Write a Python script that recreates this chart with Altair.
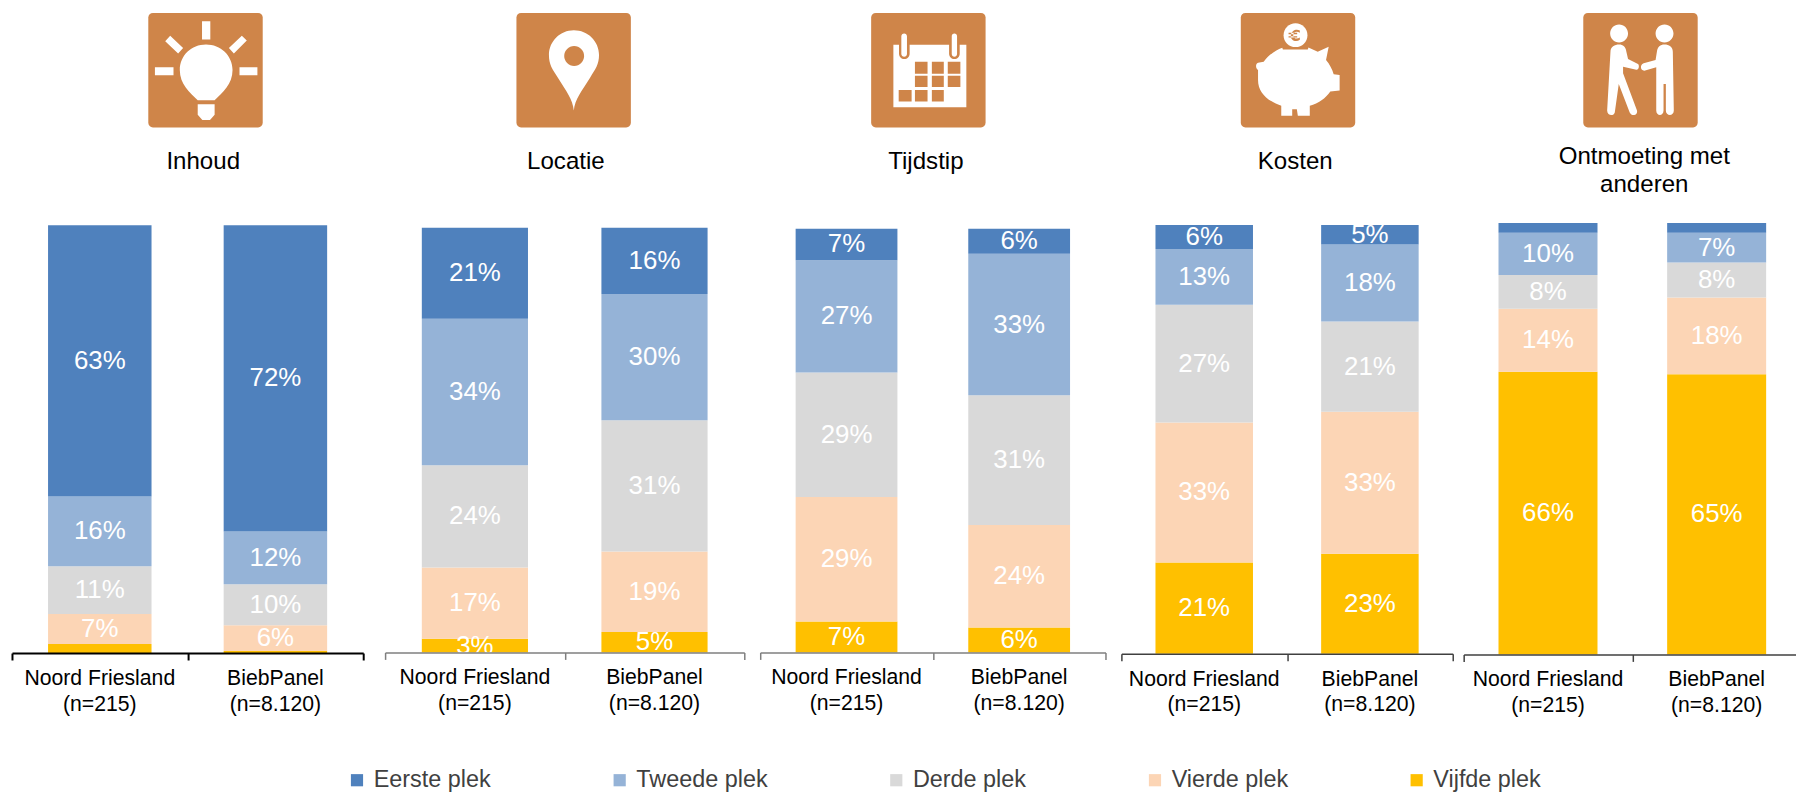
import re
import altair as alt
import pandas as pd

FONT = "Liberation Sans"

places = ["Eerste plek", "Tweede plek", "Derde plek", "Vierde plek", "Vijfde plek"]
place_colors = ["#4F81BD", "#95B3D7", "#D9D9D9", "#FCD5B5", "#FFC000"]
groups = ["Noord Friesland\n(n=215)", "BiebPanel\n(n=8.120)"]
titles = ["Inhoud", "Locatie", "Tijdstip", "Kosten", "Ontmoeting met\nanderen"]

# share per place (Eerste..Vijfde)
inhoud_nf = [63.4, 16.3, 11.2, 7.0, 2.1]
inhoud_bp = [71.6, 12.3, 9.6, 6.0, 0.5]
locatie_nf = [21.4, 34.5, 24.1, 16.8, 3.2]
locatie_bp = [15.6, 29.7, 30.9, 19.0, 4.8]
tijdstip_nf = [7.4, 26.5, 29.4, 29.4, 7.3]
tijdstip_bp = [5.9, 33.4, 30.6, 24.2, 5.9]
kosten_nf = [5.6, 13.0, 27.5, 32.6, 21.3]
kosten_bp = [4.6, 17.9, 21.1, 33.1, 23.3]
ontmoeting_nf = [2.3, 9.8, 7.8, 14.6, 65.5]
ontmoeting_bp = [2.3, 6.9, 8.1, 17.8, 64.9]

# printed labels
inhoud_nf_lab = ["63%", "16%", "11%", "7%", ""]
inhoud_bp_lab = ["72%", "12%", "10%", "6%", ""]
locatie_nf_lab = ["21%", "34%", "24%", "17%", "3%"]
locatie_bp_lab = ["16%", "30%", "31%", "19%", "5%"]
tijdstip_nf_lab = ["7%", "27%", "29%", "29%", "7%"]
tijdstip_bp_lab = ["6%", "33%", "31%", "24%", "6%"]
kosten_nf_lab = ["6%", "13%", "27%", "33%", "21%"]
kosten_bp_lab = ["5%", "18%", "21%", "33%", "23%"]
ontmoeting_nf_lab = ["", "10%", "8%", "14%", "66%"]
ontmoeting_bp_lab = ["", "7%", "8%", "18%", "65%"]

series = [
    (inhoud_nf, inhoud_nf_lab, inhoud_bp, inhoud_bp_lab),
    (locatie_nf, locatie_nf_lab, locatie_bp, locatie_bp_lab),
    (tijdstip_nf, tijdstip_nf_lab, tijdstip_bp, tijdstip_bp_lab),
    (kosten_nf, kosten_nf_lab, kosten_bp, kosten_bp_lab),
    (ontmoeting_nf, ontmoeting_nf_lab, ontmoeting_bp, ontmoeting_bp_lab),
]


def table(a, la, b, lb):
    rows = []
    for grp, vals, labs in ((groups[0], a, la), (groups[1], b, lb)):
        base = 0.0
        for i in range(4, -1, -1):
            rows.append({"group": grp, "place": places[i], "start": base,
                         "end": base + vals[i], "mid": base + vals[i] / 2, "label": labs[i]})
            base += vals[i]
    return pd.DataFrame(rows)


# ---------- icon glyphs: paths written in 345-unit box coordinates ----------
def unit(path, ox=0, oy=0):
    toks = re.findall(r"[MLCZ]|-?\d+\.?\d*", path)
    out, is_x = [], True
    for t in toks:
        if t in "MLCZ":
            out.append(t)
            is_x = True
        else:
            v = (float(t) - (ox if is_x else oy) - 172.5) / 172.5
            out.append(f"{v:.4f}")
            is_x = not is_x
    return " ".join(out)


def rect(x0, y0, x1, y1):
    return f"M{x0} {y0} L{x1} {y0} L{x1} {y1} L{x0} {y1} Z"


def circle(cx, cy, r):
    k = r * 0.5523
    return (f"M{cx-r} {cy} C{cx-r} {cy-k} {cx-k} {cy-r} {cx} {cy-r} "
            f"C{cx+k} {cy-r} {cx+r} {cy-k} {cx+r} {cy} "
            f"C{cx+r} {cy+k} {cx+k} {cy+r} {cx} {cy+r} "
            f"C{cx-k} {cy+r} {cx-r} {cy+k} {cx-r} {cy} Z")


def capsule(x0, y0, x1, y1):
    r = (x1 - x0) / 2
    k = r * 0.5523
    return (f"M{x0} {y0+r} C{x0} {y0+r-k} {x0+r-k} {y0} {x0+r} {y0} "
            f"C{x0+r+k} {y0} {x1} {y0+r-k} {x1} {y0+r} L{x1} {y1-r} "
            f"C{x1} {y1-r+k} {x0+r+k} {y1} {x0+r} {y1} C{x0+r-k} {y1} {x0} {y1-r+k} {x0} {y1-r} Z")


ORANGE = "#CF8549"
WHITE = "#FFFFFF"
rounded = ("M14 0 L331 0 C339 0 345 6 345 14 L345 331 C345 339 339 345 331 345 "
           "L14 345 C6 345 0 339 0 331 L0 14 C0 6 6 0 14 0 Z")

bulb = " ".join([
    rect(162, 25, 187, 80), rect(20, 164, 76, 188), rect(275, 164, 329, 188),
    "M51 85 L66 69 L105 106 L90 122 Z", "M243 106 L282 69 L297 83 L258 122 Z",
    "M149 263 C125 240 95 215 95 172 C95 128 130 95 174 95 C218 95 254 128 254 172 C254 215 224 240 200 263 Z",
    "M149 275 L200 275 L200 307 L186 323 L163 323 L149 307 Z",
])
pin = ("M173 294 C170 260 150 235 125 195 C108 170 98 155 98 127 C98 85 132 52 173 52 "
       "C215 52 249 85 249 127 C249 155 238 170 222 195 C197 235 176 260 173 294 Z")
cells = " ".join(
    [rect(x0, 147, x1, 183) for x0, x1 in ((132, 170), (183, 219), (231, 269))]
    + [rect(x0, 189, x1, 223) for x0, x1 in ((132, 170), (183, 219), (231, 269))]
    + [rect(x0, 232, x1, 267) for x0, x1 in ((83, 122), (132, 170), (183, 219))]
)
pig = ("M125 105 L127 110 L202 110 L204 104 L232 117 L265 102 L257 142 C268 155 276 170 280 185 "
       "L298 187 L298 234 L270 237 C255 258 235 272 208 280 L208 310 L172 310 L169 290 L155 290 "
       "L155 310 L122 310 L122 280 C80 265 52 240 52 202 L52 172 C44 168 44 152 52 150 L69 147 "
       "C85 125 105 113 125 105 Z")
euro = ("M178 53 C168 47 153 52 151 67 C149 82 166 90 178 81 L178 74 C170 80 158 78 158 67 "
        "C158 56 170 54 178 60 Z " + rect(144, 60, 170, 64) + " " + rect(144, 70, 170, 74))
people = " ".join([
    unit(circle(138, 80, 27), 30, 18),
    unit("M112 135 C112 120 125 113 138 113 C150 113 158 120 160 135 L165 157 L195 172 C200 176 198 190 190 189 "
         "L150 180 L150 200 L192 312 C195 328 175 330 170 318 L137 232 L125 318 C122 330 102 328 102 312 Z", 30, 18),
    unit(circle(275, 80, 27), 30, 18),
    unit("M300 135 C300 120 288 113 275 113 C262 113 254 120 252 135 L248 160 L212 170 C200 175 202 192 214 192 "
         "L250 182 L250 312 C250 330 272 330 272 312 L272 232 L279 232 L279 312 C279 330 303 330 303 312 Z", 30, 18),
])

icons = [
    [(unit(rounded), ORANGE), (unit(bulb), WHITE)],
    [(unit(rounded), ORANGE), (unit(pin), WHITE), (unit(circle(174, 130, 30)), ORANGE)],
    [(unit(rounded), ORANGE), (unit(rect(67, 96, 287, 284)), WHITE),
     (unit(capsule(84, 70, 116, 139) + " " + capsule(235, 70, 267, 139)), ORANGE),
     (unit(capsule(91, 62, 108, 132) + " " + capsule(243, 62, 259, 132)), WHITE),
     (unit(cells), ORANGE)],
    [(unit(rounded), ORANGE), (unit(pig), WHITE), (unit(circle(165, 67, 36)), WHITE), (unit(euro), ORANGE)],
    [(unit(rounded), ORANGE), (people, WHITE)],
]

# ---------- layout per panel (pixels inside the panel) ----------
panel_w = [375, 377, 363, 344, 334]
axis_len = [353, 361, 347, 333, 339]
panel_h = [646.3, 645.7, 645.7, 647, 647.7]
bar_top = [216.3, 219, 220, 216, 214]
bar_w = [104, 106.7, 102.3, 98, 99.5]
axis_color = ["#000000", "#7F7F7F", "#7F7F7F", "#404040", "#404040"]
axis_width = [2, 1.5, 1.5, 1.5, 1.5]
icon_x = [194.5, 189.5, 169, 177.5, 177.7]
title_x = [192.2, 181.7, 166.5, 174.7, 181.5]
title_y = [153, 153, 153, 153, 148]

legend = alt.Legend(
    orient="none", legendX=335, legendY=762, direction="horizontal", columns=5,
    columnPadding=117, title=None, symbolType="square", symbolSize=150, symbolStrokeWidth=0,
    labelFontSize=23.5, labelFont=FONT, labelColor="#404040", labelOffset=5, labelLimit=300,
)

panels = []
for i, (a, la, b, lb) in enumerate(series):
    df = table(a, la, b, lb)
    x = alt.X("group:N", title=None,
              scale=alt.Scale(domain=groups, range=[0, axis_len[i]], padding=0),
              axis=alt.Axis(labels=False, tickBand="extent", tickSize=7, domainColor=axis_color[i],
                            tickColor=axis_color[i], domainWidth=axis_width[i], tickWidth=axis_width[i],
                            zindex=1, grid=False))
    y_scale = alt.Scale(domain=[0, 100], range=[panel_h[i], bar_top[i]])
    bars = alt.Chart(df).mark_bar(width=bar_w[i]).encode(
        x=x,
        y=alt.Y("start:Q", scale=y_scale, axis=None),
        y2="end:Q",
        color=alt.Color("place:N", scale=alt.Scale(domain=places, range=place_colors), legend=legend),
    )
    values = alt.Chart(df).mark_text(fontSize=26, font=FONT, color="#FFFFFF", baseline="middle").encode(
        x=alt.X("group:N", title=None, scale=alt.Scale(domain=groups, range=[0, axis_len[i]], padding=0)),
        y=alt.Y("mid:Q", scale=y_scale, axis=None),
        text="label:N",
    )
    cats = alt.Chart(pd.DataFrame({"group": groups})).mark_text(
        fontSize=21.3, font=FONT, color="#000000", baseline="middle", lineBreak="\n", lineHeight=26
    ).encode(
        x=alt.X("group:N", title=None, scale=alt.Scale(domain=groups, range=[0, axis_len[i]], padding=0)),
        y=alt.value(panel_h[i] + 26),
        text="group:N",
    )
    head = alt.Chart(pd.DataFrame({"title": [titles[i]]})).mark_text(
        fontSize=24.2, font=FONT, color="#000000", baseline="middle", lineBreak="\n", lineHeight=28
    ).encode(x=alt.value(title_x[i]), y=alt.value(title_y[i]), text="title:N")
    glyphs = [
        alt.Chart(pd.DataFrame({"k": [0]})).mark_point(
            shape=path, size=115 * 115, filled=True, fill=col, opacity=1, strokeWidth=0
        ).encode(x=alt.value(icon_x[i]), y=alt.value(60.5))
        for path, col in icons[i]
    ]
    panels.append(
        alt.layer(bars, values, cats, head, *glyphs).properties(width=panel_w[i], height=panel_h[i])
    )

chart = (
    alt.hconcat(*panels, spacing=0, bounds="flush")
    .resolve_scale(color="shared")
    .properties(padding={"left": 3, "top": 0, "right": -6, "bottom": 0}, background="#FFFFFF")
    .configure_view(stroke=None)
)
chart.save("out.html", embed_options={"renderer": "svg", "actions": False})
